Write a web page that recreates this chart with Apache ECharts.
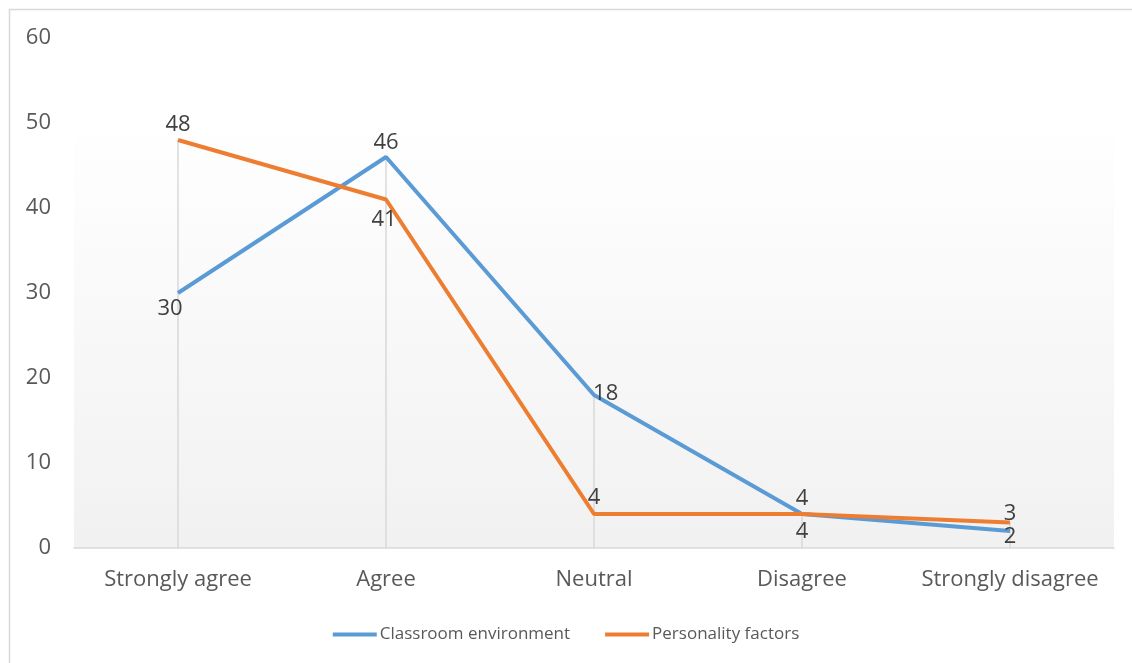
<!DOCTYPE html>
<html lang="en">

<head>
    <meta charset="UTF-8">
    <title>Classroom vs Personality</title>
    <script src="https://cdnjs.cloudflare.com/ajax/libs/echarts/6.0.0/echarts.min.js"></script>
    <style>
        html, body { margin: 0; padding: 0; background: #fff; overflow: hidden; }
        #main { width: 1132px; height: 663px; }
    </style>
</head>

<body>
    <div id="main"></div>
    <script>
        // data
        const categories = ["Strongly agree", "Agree", "Neutral", "Disagree", "Strongly disagree"];
        const classroom = [30, 46, 18, 4, 2];
        const personality = [48, 41, 4, 4, 3];
        const yTicks = [0, 10, 20, 30, 40, 50, 60];

        // where each value label sits (Excel placed them by hand)
        const classroomLabelPos = ["bottom", "top", "right", "bottom", "bottom"];
        const personalityLabelPos = ["top", "bottom", "top", "top", "top"];

        const chart = echarts.init(document.getElementById('main'));
        const font = "'Open Sans', sans-serif";
        const fs = 22;

        function withLabels(values, positions, offsets) {
            return values.map((v, i) => ({
                value: v,
                label: { position: positions[i], offset: offsets[i] || [0, 0] }
            }));
        }

        // drop lines go from the higher of the two points down to the axis
        const dropTops = classroom.map((v, i) => Math.max(v, personality[i]));

        const option = {
            animation: false,
            textStyle: { fontFamily: font },
            graphic: [{
                type: 'rect',
                shape: { x: 9.5, y: 9.5, width: 1200, height: 700 },
                style: { fill: 'none', stroke: '#d9d9d9', lineWidth: 1.5 },
                silent: true
            }],
            grid: {
                left: 74, right: 18, top: 38, bottom: 115,
                show: true,
                borderWidth: 0,
                backgroundColor: new echarts.graphic.LinearGradient(0, 0, 0, 1, [
                    { offset: 0, color: '#ffffff' },
                    { offset: 0.15, color: '#ffffff' },
                    { offset: 1, color: '#f1f1f1' }
                ])
            },
            legend: {
                data: ["Classroom environment", "Personality factors"],
                bottom: 15,
                left: 'center',
                icon: 'rect',
                itemWidth: 44,
                itemHeight: 4,
                itemGap: 35,
                textStyle: { fontSize: 17, color: '#595959', fontFamily: font, padding: [0, 0, 0, -2] }
            },
            xAxis: {
                type: 'category',
                data: categories,
                axisLine: { lineStyle: { color: '#d9d9d9', width: 1.5 } },
                axisTick: { show: false },
                axisLabel: { fontSize: fs, color: '#595959', margin: 21, fontFamily: font, interval: 0 },
                splitLine: { show: false }
            },
            yAxis: {
                type: 'value',
                min: yTicks[0],
                max: yTicks[yTicks.length - 1],
                interval: 10,
                axisLine: { show: false },
                axisTick: { show: false },
                splitLine: { show: false },
                axisLabel: { fontSize: fs, color: '#595959', margin: 23, fontFamily: font }
            },
            series: [
                {
                    name: 'drop',
                    type: 'bar',
                    data: dropTops,
                    barWidth: 1.5,
                    itemStyle: { color: '#d9d9d9' },
                    silent: true,
                    z: 1
                },
                {
                    name: "Classroom environment",
                    type: 'line',
                    data: withLabels(classroom, classroomLabelPos, [[-8, 2.5], [0, -1.5], [-3, -1], [0, 4.5], [0, -7.5]]),
                    symbol: 'circle',
                    symbolSize: 0.1,
                    showSymbol: true,
                    lineStyle: { color: '#5b9bd5', width: 4 },
                    itemStyle: { color: '#5b9bd5' },
                    label: { show: true, fontSize: fs, color: '#404040', fontFamily: font, distance: 2 },
                    z: 3
                },
                {
                    name: "Personality factors",
                    type: 'line',
                    data: withLabels(personality, personalityLabelPos, [[0, -2.5], [-2, 7.5], [0, -3.5], [0, -2.5], [0, 4.5]]),
                    symbol: 'circle',
                    symbolSize: 0.1,
                    showSymbol: true,
                    lineStyle: { color: '#ed7d31', width: 4 },
                    itemStyle: { color: '#ed7d31' },
                    label: { show: true, fontSize: fs, color: '#404040', fontFamily: font, distance: 2 },
                    z: 4
                }
            ]
        };

        chart.setOption(option);
    </script>

</body>

</html>
